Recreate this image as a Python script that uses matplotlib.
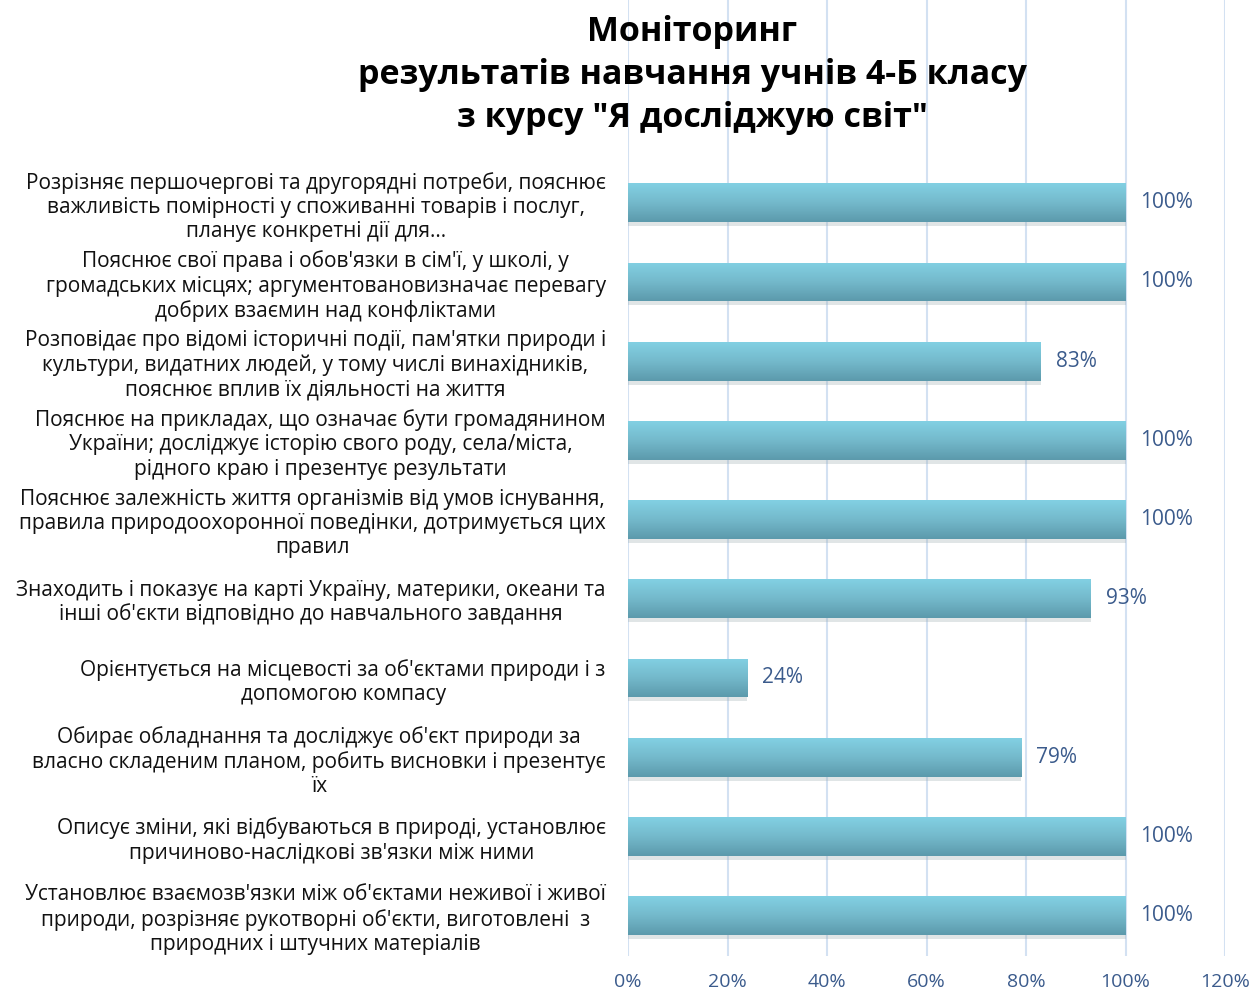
import matplotlib.pyplot as plt
import numpy as np
from matplotlib.colors import LinearSegmentedColormap

plt.rcParams['font.family'] = ['Open Sans', 'DejaVu Sans']

# categories, top to bottom
labels = [
    "Розрізняє першочергові та другорядні потреби, пояснює\nважливість помірності у споживанні товарів і послуг,\nпланує конкретні дії для...",
    "Пояснює свої права і обов'язки в сім'ї, у школі, у\nгромадських місцях; аргументовановизначає перевагу\nдобрих взаємин над конфліктами",
    "Розповідає про відомі історичні події, пам'ятки природи і\nкультури, видатних людей, у тому числі винахідників,\nпояснює вплив їх діяльності на життя",
    "Пояснює на прикладах, що означає бути громадянином\nУкраїни; досліджує історію свого роду, села/міста,\nрідного краю і презентує результати",
    "Пояснює залежність життя організмів від умов існування,\nправила природоохоронної поведінки, дотримується цих\nправил",
    "Знаходить і показує на карті Україну, материки, океани та\nінші об'єкти відповідно до навчального завдання",
    "Орієнтується на місцевості за об'єктами природи і з\nдопомогою компасу",
    "Обирає обладнання та досліджує об'єкт природи за\nвласно складеним планом, робить висновки і презентує\nїх",
    "Описує зміни, які відбуваються в природі, установлює\nпричиново-наслідкові зв'язки між ними",
    "Установлює взаємозв'язки між об'єктами неживої і живої\nприроди, розрізняє рукотворні об'єкти, виготовлені  з\nприродних і штучних матеріалів",
]
values = [100, 100, 83, 100, 100, 93, 24, 79, 100, 100]
xticks = [0, 20, 40, 60, 80, 100, 120]

title = 'Моніторинг\nрезультатів навчання учнів 4-Б класу\nз курсу "Я досліджую світ"'

fig = plt.figure(figsize=(12.54, 9.94), dpi=100)
ax = fig.add_axes([628 / 1254, 1 - 956 / 994, (1225 - 628) / 1254, 956 / 994])

y = np.arange(len(labels))
bh = 0.49

# shadow
ax.barh(y + 0.05, values, height=bh, color='#9aa9ad', alpha=0.3, zorder=2)
bars = ax.barh(y, values, height=bh, color='#72bcd0', zorder=3)

cmap = LinearSegmentedColormap.from_list('bar', ['#82d0e3', '#74b9cb', '#5c9aac'])
grad = np.linspace(0, 1, 64).reshape(-1, 1)
for b in bars:
    x0, yb = b.get_x(), b.get_y()
    w, h = b.get_width(), b.get_height()
    im = ax.imshow(grad, cmap=cmap, aspect='auto', zorder=4,
                   extent=[x0, x0 + w, yb + h, yb], interpolation='bicubic')
    im.set_clip_path(b)

for yi, v in zip(y, values):
    ax.text(v + 3, yi, f'{v}%', va='center', ha='left', fontsize=15,
            color='#3b5b8c', zorder=5)

ax.set_xlim(0, 120)
ax.set_ylim(9.51, -2.56)
ax.set_xticks(xticks)
ax.set_xticklabels([f'{t}%' for t in xticks], fontsize=14, color='#3b5b8c')
ax.set_yticks(y)
ax.set_yticklabels(labels, fontsize=15, color='#111111', multialignment='center',
                   linespacing=1.2)
ax.tick_params(axis='y', length=0, pad=16)
ax.tick_params(axis='x', length=0, pad=12)
ax.grid(axis='x', color='#d3e1f2', linewidth=1.5, zorder=0)
for s in ax.spines.values():
    s.set_visible(False)

fig.text(692 / 1254, 1 - 75 / 994, title, ha='center', va='center',
         fontsize=24.5, fontweight='bold', linespacing=1.35, color='black')

fig.savefig('out.png', dpi=100)
